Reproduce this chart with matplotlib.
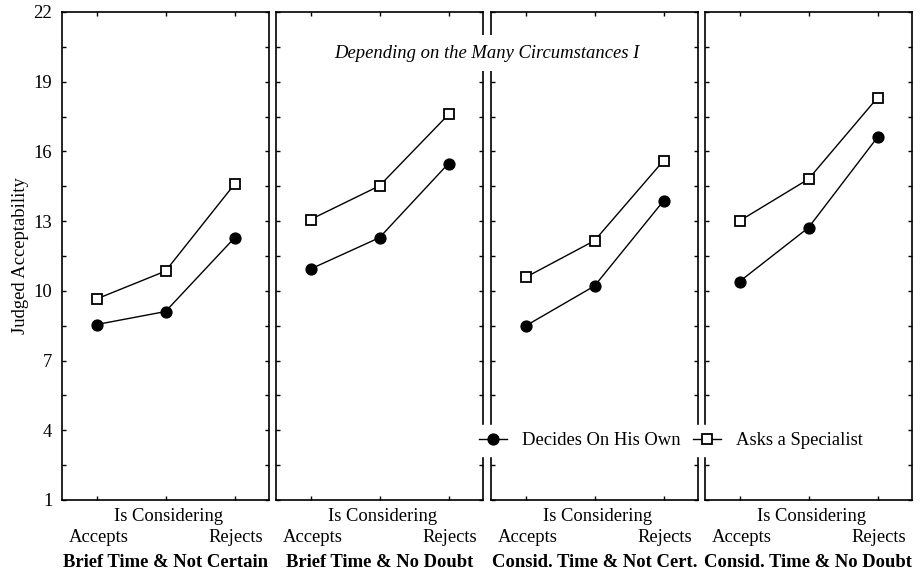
import matplotlib
matplotlib.use('Agg')
import matplotlib.pyplot as plt
import numpy as np

plt.rcParams['font.family'] = ['Liberation Serif', 'DejaVu Serif']

# ---- data ----
panels = ["Brief Time & Not Certain", "Brief Time & No Doubt",
          "Consid. Time & Not Cert.", "Consid. Time & No Doubt"]
levels = ["Accepts", "Is Considering", "Rejects"]
own = [[8.55, 9.11, 12.28],
       [10.94, 12.29, 15.48],
       [8.49, 10.21, 13.87],
       [10.40, 12.72, 16.61]]
spec = [[9.65, 10.85, 14.59],
        [13.07, 14.52, 17.59],
        [10.58, 12.16, 15.60],
        [13.01, 14.81, 18.31]]
series_names = ["Decides On His Own", "Asks a Specialist"]
y_major = [1, 4, 7, 10, 13, 16, 19, 22]
title = "Depending on the Many Circumstances I"
ylabel = "Judged Acceptability"

FS = 13.4
fig = plt.figure(figsize=(9.22, 5.77), dpi=100)
W, H = 922, 577
lefts = [62, 276, 491, 705]
pw = 207
top_px, bot_px = 12, 500

x = np.arange(len(levels))
handles = []
for i, name in enumerate(panels):
    ax = fig.add_axes([lefts[i] / W, (H - bot_px) / H, pw / W, (bot_px - top_px) / H])
    h1, = ax.plot(x, own[i], '-o', color='black', lw=1.0, ms=7.8,
                  mfc='black', mec='black', zorder=3)
    h2, = ax.plot(x, spec[i], '-s', color='black', lw=1.0, ms=7.5,
                  mfc='white', mec='black', mew=1.3, zorder=3)
    if i == 0:
        handles = [h1, h2]
    ax.set_xlim(-0.5, 2.5)
    ax.set_ylim(1, 22)
    ax.set_yticks(y_major)
    ax.set_yticks(np.arange(2.5, 22, 3), minor=True)
    ax.set_xticks(x)
    ax.set_xticklabels([])
    ax.tick_params(axis='both', which='both', direction='in', length=3,
                   width=1.0, top=True, bottom=True, left=True, right=True)
    if i == 0:
        ax.set_yticklabels([str(v) for v in y_major], fontsize=FS)
        ax.tick_params(axis='y', pad=7)
        ax.set_ylabel(ylabel, fontsize=FS, labelpad=3)
    else:
        ax.set_yticklabels([])
    for s in ax.spines.values():
        s.set_linewidth(1.2)
    tr = ax.get_xaxis_transform()
    ax.text(1.04, -0.033, levels[1], transform=tr, ha='center', va='center', fontsize=FS)
    ax.text(0.03, -0.076, levels[0], transform=tr, ha='center', va='center', fontsize=FS)
    ax.text(2.02, -0.076, levels[2], transform=tr, ha='center', va='center', fontsize=FS)
    ax.text(0.5, -0.129, name, transform=ax.transAxes, ha='center', va='center',
            fontsize=FS, fontweight='bold')

fig.text(487 / W, (H - 53) / H, title, style='italic', ha='center', va='center',
         fontsize=FS, bbox=dict(facecolor='white', edgecolor='none',
                                boxstyle='square,pad=0.5'), zorder=10)

leg = fig.legend(handles, series_names, loc='center',
                 bbox_to_anchor=(671 / W, (H - 440.5) / H), ncol=2,
                 frameon=True, fancybox=False, facecolor='white',
                 edgecolor='white', framealpha=1, fontsize=FS,
                 handlelength=1.5, handletextpad=0.8, columnspacing=0.7,
                 borderpad=0.35, borderaxespad=0)
leg.set_zorder(10)

fig.savefig('out.png', dpi=100)
